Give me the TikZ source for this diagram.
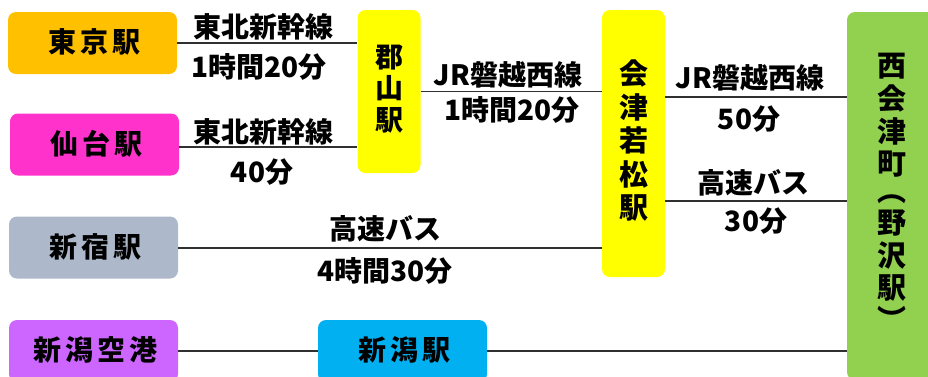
\documentclass[tikz,border=0pt]{standalone}
\usepackage{fontspec}
\setmainfont{Noto Sans CJK JP}
\usetikzlibrary{calc}
\definecolor{ctokyo}{HTML}{FFC000}
\definecolor{csendai}{HTML}{FF33CC}
\definecolor{cyellow}{HTML}{FFFF00}
\definecolor{cshinjuku}{HTML}{ADB9CA}
\definecolor{cairport}{HTML}{CC66FF}
\definecolor{cniigata}{HTML}{00B0F0}
\definecolor{cgreen}{HTML}{92D050}
\definecolor{cline}{HTML}{303030}
\newcommand{\hlab}[1]{\raisebox{4.5pt}{\kern4pt\addfontfeature{LetterSpace=14}#1}}
\newcommand{\vlab}[2]{\raisebox{#1}{\begin{tabular}{@{}c@{}}#2\end{tabular}}}
\begin{document}
\begin{tikzpicture}[x=1pt,y=-1pt,
  stbox/.style={rounded corners=8pt, inner sep=0pt, text=black,
    font=\bfseries\fontsize{28}{30}\selectfont},
  hbox/.style={stbox, minimum width=169pt, minimum height=62pt},
  vbox/.style={stbox, minimum width=63pt},
  lab/.style={inner sep=0pt, font=\bfseries\fontsize{28}{30}\selectfont},
  conn/.style={draw=cline, line width=1.6pt}]
\useasboundingbox (0,0) rectangle (928,376);
% boxes
\node[hbox, fill=ctokyo] (tokyo) at (92.5,43) {\hlab{東京駅}};
\node[hbox, fill=csendai] (sendai) at (94.5,144.5) {\hlab{仙台駅}};
\node[hbox, fill=cshinjuku] (shinjuku) at (93.5,247.5) {\hlab{新宿駅}};
\node[hbox, fill=cairport] (airport) at (93.5,351) {\hlab{新潟空港}};
\node[hbox, fill=cniigata] (niigata) at (402.5,351) {\hlab{新潟駅}};
\node[vbox, fill=cyellow, minimum height=163pt,
  font=\bfseries\fontsize{28}{28}\selectfont] (koriyama) at (389,91.5) {\vlab{0pt}{郡\\山\\駅}};
\node[vbox, fill=cyellow, minimum height=267pt,
  font=\bfseries\fontsize{29}{30}\selectfont] (aizu) at (633.5,143.5) {\vlab{-1.5pt}{会\\津\\若\\松\\駅}};
\node[stbox, fill=cgreen, minimum width=90pt, minimum height=368pt,
  font=\bfseries\fontsize{29}{27.3}\selectfont] (nishi) at (892,196) {\vlab{5pt}{西\\会\\津\\町\\︵\\野\\沢\\駅\\︶}};
% connectors
\draw[conn] (tokyo.east) -- (tokyo.east -| koriyama.west);
\draw[conn] ([yshift=-2.5pt]sendai.east) -- ([yshift=-2.5pt]sendai.east -| koriyama.west);
\draw[conn] (koriyama.east) -- (koriyama.east -| aizu.west);
\draw[conn] ([yshift=46.5pt]aizu.east) -- ([yshift=46.5pt]aizu.east -| nishi.west);
\draw[conn] ([yshift=-57.5pt]aizu.east) -- ([yshift=-57.5pt]aizu.east -| nishi.west);
\draw[conn] ([yshift=-0.5pt]shinjuku.east) -- ([yshift=-0.5pt]shinjuku.east -| aizu.west);
\draw[conn] (airport.east) -- (niigata.west);
\draw[conn] (niigata.east) -- (niigata.east -| nishi.west);
% labels
\node[lab] (l1a) at (263,27) {東北新幹線};
\node[lab] (l1b) at (259,67) {1時間20分};
\node[lab] (l2a) at (263,132) {東北新幹線};
\node[lab] (l2b) at (262,172) {40分};
\node[lab] (l3a) at (508,75) {JR磐越西線};
\node[lab] (l3b) at (512,110) {1時間20分};
\node[lab] (l4a) at (750,78) {JR磐越西線};
\node[lab] (l4b) at (749,119) {50分};
\node[lab] (l5a) at (753,183) {高速バス};
\node[lab] (l5b) at (756,221) {30分};
\node[lab] (l6a) at (385,229) {高速バス};
\node[lab] (l6b) at (385,271) {4時間30分};
\end{tikzpicture}
\end{document}
